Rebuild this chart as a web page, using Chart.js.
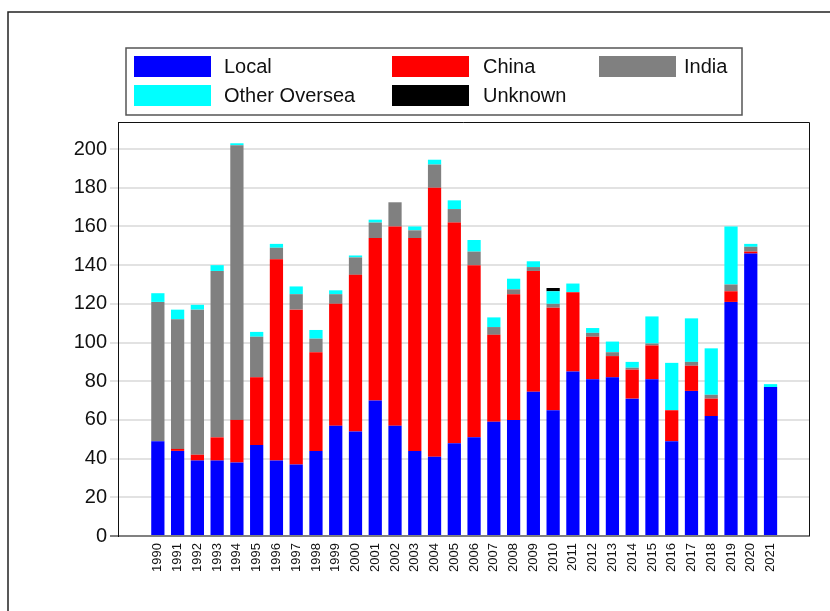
<!DOCTYPE html>
<html>
<head>
<meta charset="utf-8">
<title>Origin by year</title>
<script src="https://cdn.jsdelivr.net/npm/chart.js@4/dist/chart.umd.min.js"></script>
<style>
  body { margin: 0; background: #fff; }
  #wrap { width: 830px; height: 611px; }
</style>
</head>
<body>
<div id="wrap"><canvas id="chart" width="830" height="611"></canvas></div>
<script>
const years = [1990, 1991, 1992, 1993, 1994, 1995, 1996, 1997, 1998, 1999, 2000, 2001, 2002, 2003, 2004, 2005,
    2006, 2007, 2008, 2009, 2010, 2011, 2012, 2013, 2014, 2015, 2016, 2017, 2018, 2019, 2020, 2021];

const local   = [49, 44, 39, 39, 38, 47, 39, 37, 44, 57, 54, 70, 57, 44, 41, 48, 51, 59, 60, 74.5, 65, 85, 81, 82, 71, 81, 49, 75, 62, 121, 146, 77];
const china   = [0, 1, 3, 12, 22, 35, 104, 80, 51, 63, 81, 84, 103, 110, 139, 114, 89, 45, 65, 62.5, 53, 41, 22, 11, 15, 17.5, 16, 13, 9, 5.5, 1, 0];
const india   = [72, 67, 75, 86, 142, 21, 6, 8, 7, 5, 9, 8, 12.5, 4, 12, 7, 7, 4, 2.5, 2, 2, 0, 2, 2, 1, 1, 0, 2, 2, 3.5, 2.5, 0];
const oversea = [4.5, 5, 2.5, 3, 1, 2.5, 2, 4, 4.5, 2, 1, 1.5, 0, 2, 2.5, 4.5, 6, 5, 5.5, 3, 6.5, 4.5, 2.5, 5.5, 3, 14, 24.5, 22.5, 24, 30, 1.5, 1.5];
const unknown = [0, 0, 0, 0, 0, 0, 0, 0, 0, 0, 0, 0, 0, 0, 0, 0, 0, 0, 0, 0, 1.7, 0, 0, 0, 0, 0, 0, 0, 0, 0, 0, 0];

const yTicks = [0, 20, 40, 60, 80, 100, 120, 140, 160, 180, 200];

const FONT = "'Liberation Sans', Arial, Helvetica, sans-serif";

const toPoints = (vals) => years.map((yr, i) => ({ x: yr, y: vals[i] }));

const series = [
    { label: 'Local', data: local, color: '#0000ff' },
    { label: 'China', data: china, color: '#ff0000' },
    { label: 'India', data: india, color: '#808080' },
    { label: 'Other Oversea', data: oversea, color: '#00ffff' },
    { label: 'Unknown', data: unknown, color: '#000000' }
];

// frame around the whole figure, legend box, top/right edges of the plot
const framePlugin = {
    id: 'frame',
    beforeDraw(chart) {
        const c = chart.ctx;
        c.save();
        c.strokeStyle = '#222';
        c.lineWidth = 1.5;
        c.strokeRect(8, 12, 900, 700);
        c.restore();
    },
    afterDraw(chart) {
        const c = chart.ctx;
        const a = chart.chartArea;
        c.save();
        c.strokeStyle = '#111';
        c.lineWidth = 1;
        c.beginPath();
        c.moveTo(a.left, a.top + 0.5);
        c.lineTo(a.right + 0.5, a.top + 0.5);
        c.lineTo(a.right + 0.5, a.bottom);
        c.stroke();

        // legend
        c.strokeStyle = '#555';
        c.lineWidth = 1.5;
        c.strokeRect(126, 48, 616, 67);
        const boxX = [134, 392, 599];
        const textX = [224, 483, 684];
        const rowY = [56, 85];
        c.font = '20px ' + FONT;
        c.textBaseline = 'middle';
        c.fillStyle = '#111';
        chart.data.datasets.forEach((ds, i) => {
            const col = i % 3, row = Math.floor(i / 3);
            c.fillStyle = ds.backgroundColor;
            c.fillRect(boxX[col], rowY[row], 77, 21);
            c.fillStyle = '#111';
            c.fillText(ds.label, textX[col], rowY[row] + 11);
        });
        c.restore();
    }
};

new Chart(document.getElementById('chart'), {
    type: 'bar',
    data: {
        datasets: series.map(s => ({
            label: s.label,
            data: toPoints(s.data),
            backgroundColor: s.color,
            borderWidth: 0,
            barPercentage: 0.67,
            categoryPercentage: 1
        }))
    },
    options: {
        responsive: false,
        animation: false,
        devicePixelRatio: 1,
        layout: { padding: { left: 0, top: 122, right: 21, bottom: 0 } },
        plugins: {
            legend: { display: false },
            tooltip: { enabled: false }
        },
        scales: {
            x: {
                type: 'linear',
                stacked: true,
                min: 1988.53,
                max: 2022.4,
                afterBuildTicks: axis => { axis.ticks = years.map(v => ({ value: v })); },
                afterFit: axis => { axis.height = 75; },
                grid: { display: false, drawTicks: false },
                border: { display: true, color: '#808080', width: 2 },
                ticks: {
                    autoSkip: false,
                    minRotation: 90,
                    maxRotation: 90,
                    padding: 7,
                    color: '#111',
                    font: { family: FONT, size: 13 },
                    callback: v => String(v)
                }
            },
            y: {
                stacked: true,
                min: 0,
                max: 214,
                afterBuildTicks: axis => { axis.ticks = yTicks.map(v => ({ value: v })); },
                afterFit: axis => { axis.width = 118; },
                grid: {
                    color: ctx => ctx.tick && ctx.tick.value === 0 ? '#808080' : '#e2e2e2',
                    lineWidth: 2,
                    tickLength: 8
                },
                border: { display: true, color: '#111', width: 1 },
                ticks: {
                    padding: 3,
                    color: '#111',
                    font: { family: FONT, size: 20 }
                }
            }
        }
    },
    plugins: [framePlugin]
});
</script>
</body>
</html>
